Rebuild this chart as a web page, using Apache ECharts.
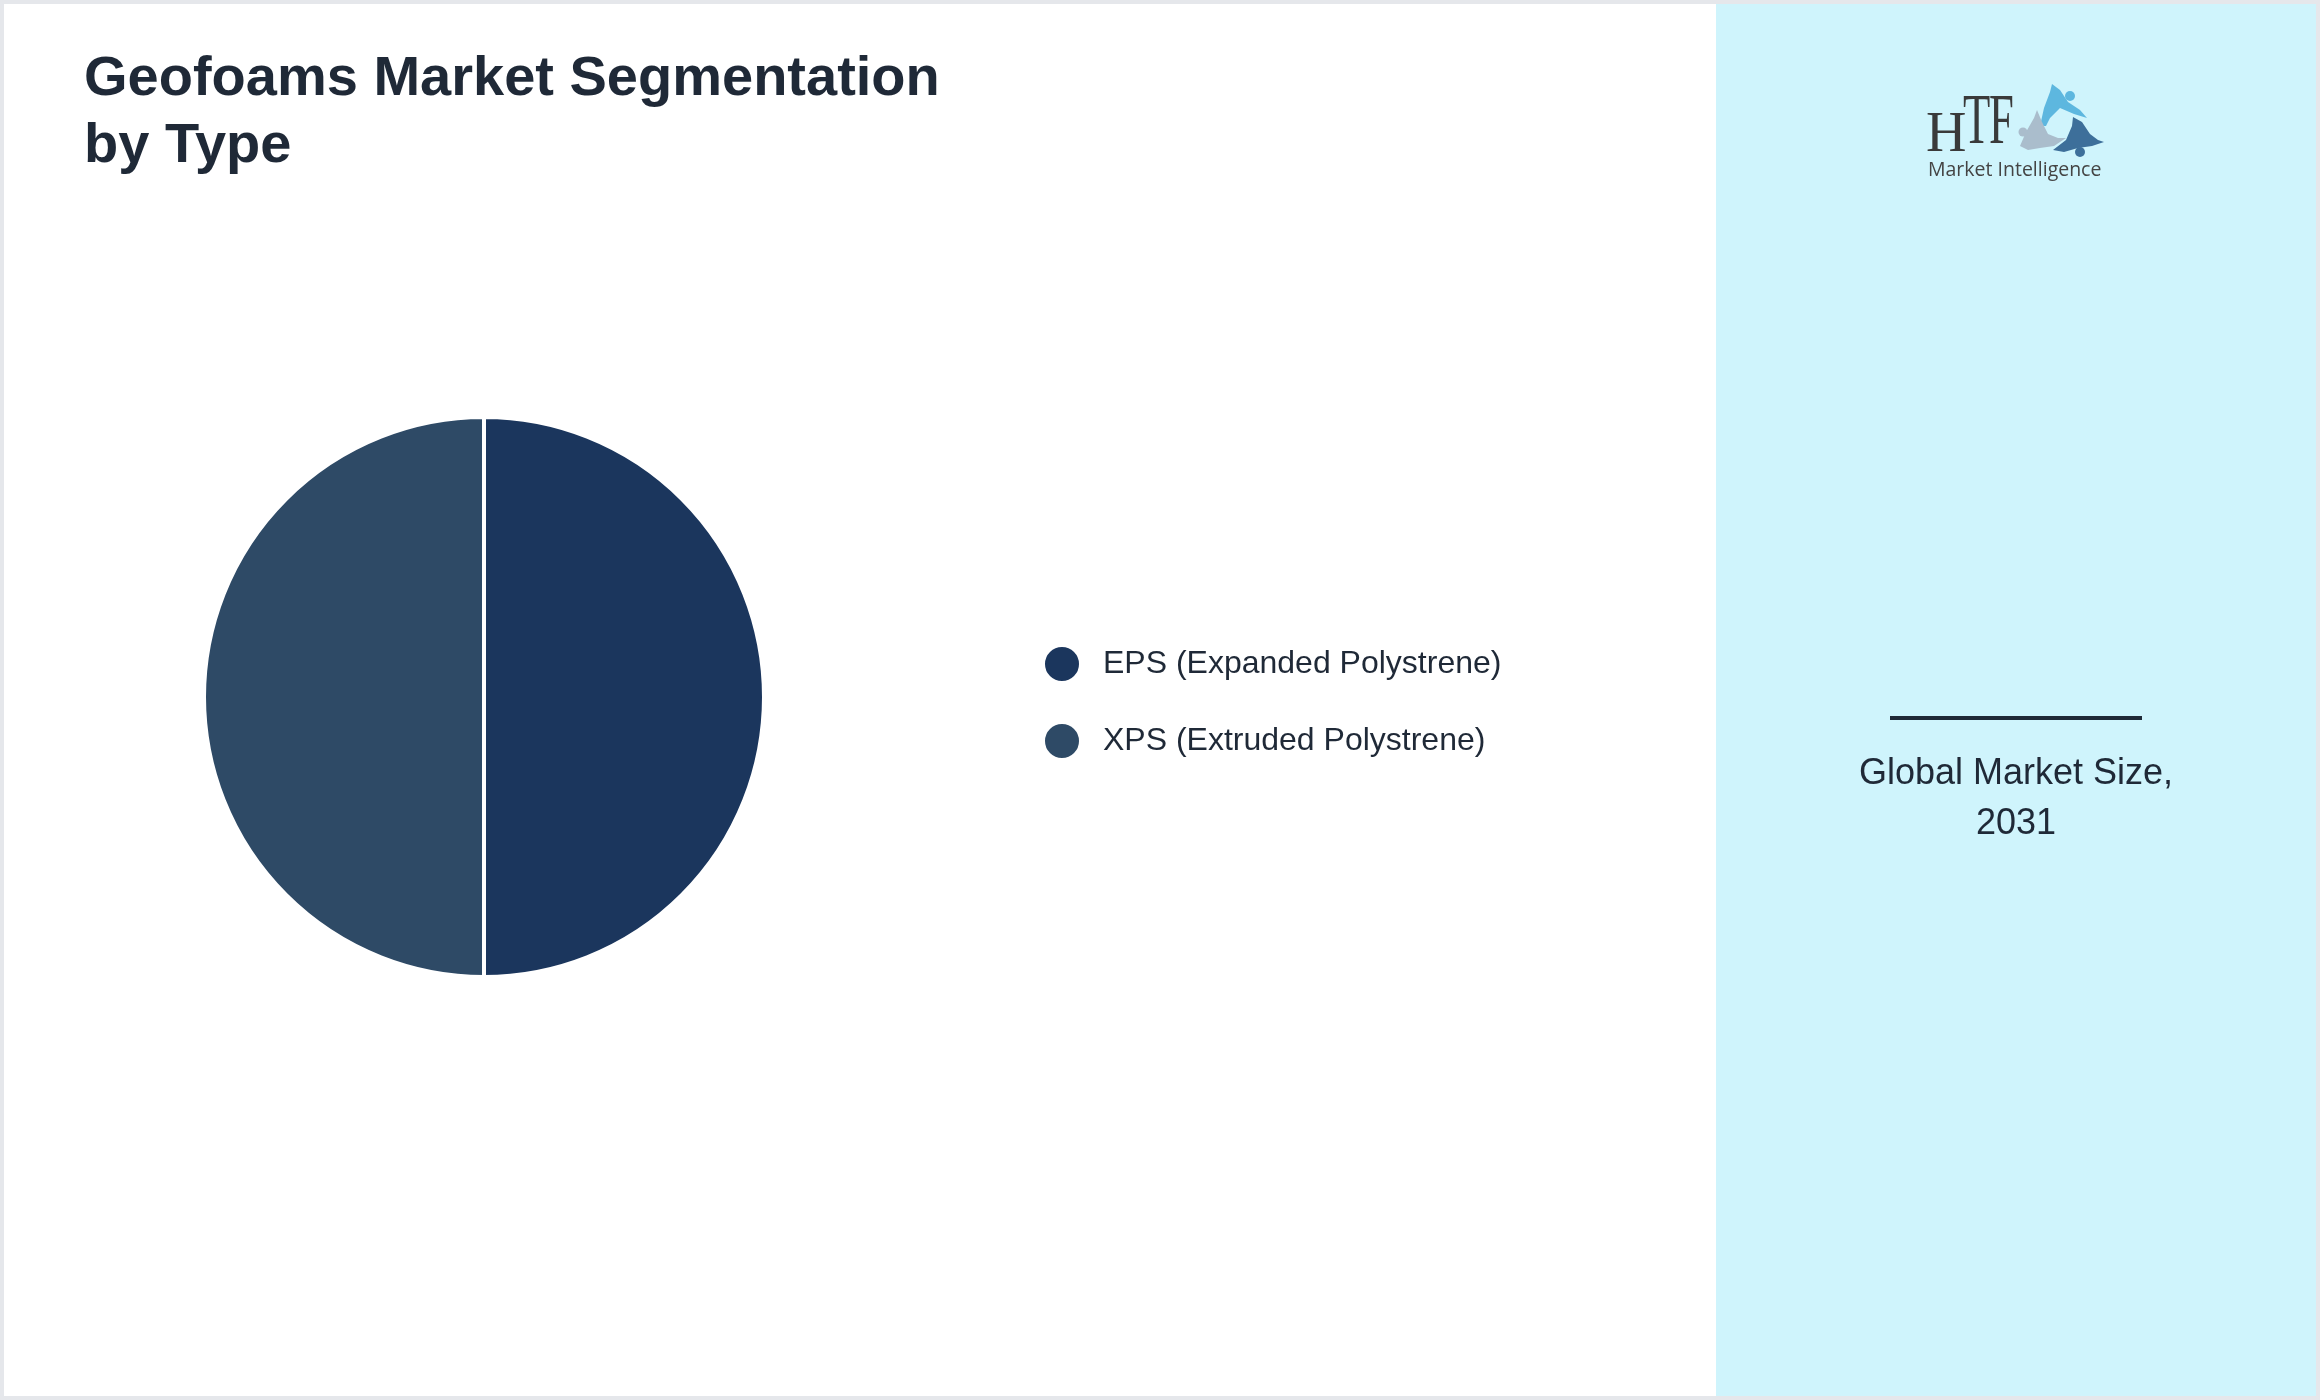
<!DOCTYPE html>
<html>
<head>
<meta charset="utf-8">
<script src="https://cdn.jsdelivr.net/npm/echarts@6/dist/echarts.min.js"></script>
<style>
html,body{margin:0;padding:0;background:#e5e7eb;}
#chart{width:2320px;height:1400px;}
</style>
</head>
<body>
<div id="chart"></div>
<script>
const categories = ['EPS (Expanded Polystrene)', 'XPS (Extruded Polystrene)'];
const values = [50, 50];
const colors = ['#1B365D', '#2E4A66'];
const titleText = 'Geofoams Market Segmentation\nby Type';
const sideText = 'Global Market Size,\n2031';

const chart = echarts.init(document.getElementById('chart'), null, {renderer: 'canvas'});
const font = '"Liberation Sans", Arial, Helvetica, sans-serif';
const serif = '"Liberation Serif", "DejaVu Serif", serif';

const option = {
  backgroundColor: '#e5e7eb',
  animation: false,
  graphic: [
    {type: 'rect', z: -10, shape: {x: 4, y: 4, width: 2312, height: 1392}, style: {fill: '#ffffff'}},
    {type: 'rect', z: -9, shape: {x: 1716, y: 4, width: 600, height: 1392}, style: {fill: '#CFF4FC'}},
    {type: 'text', left: 84, top: 46, style: {text: titleText, font: 'bold 56px ' + font, lineHeight: 67, fill: '#1f2937'}},
    // right panel
    {type: 'rect', shape: {x: 1890, y: 716, width: 252, height: 4}, style: {fill: '#1f2937'}},
    {type: 'text', x: 2016, y: 749, style: {text: sideText, font: '36px ' + font, lineHeight: 50, fill: '#1f2937', align: 'center', verticalAlign: 'top'}},
    // logo
    {type: 'text', x: 1926, y: 164, style: {text: 'H', font: '56px ' + serif, fill: '#3a3a3a', verticalAlign: 'bottom'}},
    {type: 'text', x: 1963, y: 160, scaleX: 0.62, style: {text: 'T', font: '72px ' + serif, fill: '#3a3a3a', verticalAlign: 'bottom'}},
    {type: 'text', x: 1989, y: 160, scaleX: 0.62, style: {text: 'F', font: '72px ' + serif, fill: '#3a3a3a', verticalAlign: 'bottom'}},
    {type: 'text', x: 1928, y: 160, style: {text: 'Market Intelligence', font: '19.5px "Open Sans", "Liberation Sans", sans-serif', fill: '#444444', verticalAlign: 'top'}},
    {type: 'polygon', shape: {points: [[2040, 126], [2044, 108], [2050, 92], [2052, 84], [2060, 90], [2068, 102], [2080, 110], [2087, 118], [2074, 114], [2060, 108], [2050, 118], [2046, 126]]}, style: {fill: '#5db7df'}},
    {type: 'circle', shape: {cx: 2070, cy: 96, r: 5}, style: {fill: '#5db7df'}},
    {type: 'polygon', shape: {points: [[2020, 146], [2026, 132], [2034, 118], [2037, 110], [2042, 122], [2048, 134], [2058, 138], [2066, 138], [2054, 146], [2040, 148], [2028, 150]]}, style: {fill: '#aabdcc'}},
    {type: 'circle', shape: {cx: 2023, cy: 132, r: 4.5}, style: {fill: '#aabdcc'}},
    {type: 'polygon', shape: {points: [[2053, 150], [2066, 140], [2072, 126], [2073, 117], [2082, 122], [2090, 134], [2098, 140], [2104, 142], [2092, 146], [2078, 148], [2064, 152]]}, style: {fill: '#3d6f9a'}},
    {type: 'circle', shape: {cx: 2080, cy: 152, r: 5}, style: {fill: '#3d6f9a'}}
  ],
  legend: {
    orient: 'vertical',
    left: 1043,
    top: 645,
    padding: 0,
    itemWidth: 36,
    itemHeight: 36,
    itemGap: 39,
    icon: 'circle',
    selectedMode: false,
    data: categories,
    textStyle: {fontFamily: font, fontSize: 32, lineHeight: 36, color: '#1f2937', padding: [0, 0, 0, 18]}
  },
  series: [{
    type: 'pie',
    center: [484, 697],
    radius: 280,
    startAngle: 90,
    clockwise: true,
    label: {show: false},
    labelLine: {show: false},
    emphasis: {disabled: true},
    itemStyle: {borderColor: '#ffffff', borderWidth: 4},
    data: categories.map((c, i) => ({name: c, value: values[i], itemStyle: {color: colors[i]}}))
  }]
};
chart.setOption(option);
</script>
</body>
</html>
